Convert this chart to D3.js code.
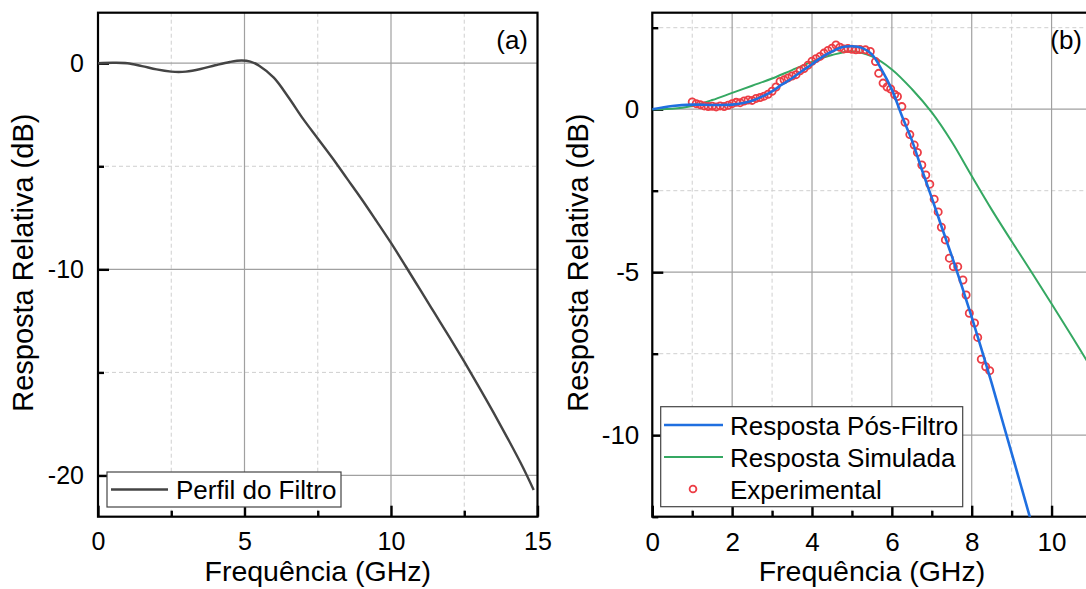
<!DOCTYPE html>
<html>
<head>
<meta charset="utf-8">
<script src="https://cdn.jsdelivr.net/npm/d3@7"></script>
<style>
  body { margin: 0; background: #fff; }
  svg { display: block; font-family: "Liberation Sans", Arial, sans-serif; }
</style>
</head>
<body>
<svg id="chart" width="1086" height="589"></svg>
<script>
// (a) perfil do filtro
var filtroFreq = [0, 0.5, 1.0, 1.5, 2.0, 2.5, 2.75, 3.0, 3.5, 4.0, 4.5, 4.9, 5.2, 5.5, 6.0, 6.5, 7.0, 7.5, 8.0, 8.5, 9.0, 9.5, 10.0, 10.5, 11.0, 11.5, 12.0, 12.5, 13.0, 13.5, 14.0, 14.5, 14.87];
var filtroDb = [0, 0.02, 0.0, -0.14, -0.3, -0.41, -0.43, -0.41, -0.28, -0.1, 0.06, 0.13, 0.08, -0.12, -0.7, -1.65, -2.7, -3.65, -4.6, -5.6, -6.6, -7.65, -8.72, -9.85, -11.0, -12.15, -13.3, -14.48, -15.7, -16.95, -18.25, -19.6, -20.7];

// (b) respostas
var posFreq = [0, 0.5, 1.0, 1.5, 2.0, 2.5, 3.0, 3.25, 3.5, 3.75, 4.0, 4.25, 4.5, 4.75, 5.0, 5.25, 5.5, 5.75, 6.0, 6.25, 6.5, 6.75, 7.0, 7.25, 7.5, 7.75, 8.0, 8.25, 8.5, 8.75, 9.0, 9.25, 9.5, 9.75];
var posDb = [0, 0.1, 0.14, 0.13, 0.14, 0.26, 0.55, 0.76, 0.95, 1.17, 1.38, 1.6, 1.77, 1.9, 1.93, 1.88, 1.68, 1.2, 0.6, -0.2, -0.95, -1.85, -2.72, -3.62, -4.5, -5.42, -6.38, -7.38, -8.4, -9.48, -10.55, -11.62, -12.7, -13.8];

var simFreq = [0, 0.5, 1.0, 1.5, 2.0, 2.5, 3.0, 3.5, 4.0, 4.5, 5.0, 5.5, 6.0, 6.5, 7.0, 7.5, 8.0, 8.5, 9.0, 9.5, 10.0, 10.5, 11.0];
var simDb = [0, 0.01, 0.1, 0.28, 0.5, 0.72, 0.94, 1.2, 1.45, 1.66, 1.78, 1.62, 1.22, 0.62, -0.1, -1.0, -2.05, -3.08, -4.05, -5.0, -5.97, -6.95, -7.95];

var expFreq = [1.0, 1.1, 1.2, 1.3, 1.4, 1.5, 1.6, 1.7, 1.8, 1.9, 2.0, 2.1, 2.2, 2.3, 2.4, 2.5, 2.6, 2.7, 2.8, 2.9, 3.0, 3.1, 3.2, 3.3, 3.4, 3.5, 3.6, 3.7, 3.8, 3.9, 4.0, 4.1, 4.2, 4.3, 4.4, 4.5, 4.6, 4.7, 4.8, 4.9, 5.0, 5.1, 5.2, 5.34, 5.46, 5.59, 5.67, 5.78, 5.88, 5.97, 6.07, 6.14, 6.25, 6.33, 6.45, 6.56, 6.64, 6.75, 6.85, 6.95, 7.06, 7.16, 7.24, 7.34, 7.44, 7.54, 7.65, 7.78, 7.86, 7.94, 8.07, 8.15, 8.24, 8.35, 8.45];
var expDb = [0.22, 0.17, 0.14, 0.1, 0.08, 0.09, 0.07, 0.1, 0.08, 0.12, 0.17, 0.21, 0.2, 0.25, 0.28, 0.27, 0.33, 0.36, 0.4, 0.46, 0.55, 0.68, 0.85, 0.9, 0.96, 1.02, 1.06, 1.18, 1.25, 1.35, 1.47, 1.55, 1.62, 1.72, 1.8, 1.87, 1.97, 1.9, 1.85, 1.86, 1.84, 1.82, 1.83, 1.82, 1.77, 1.46, 1.1, 0.8, 0.68, 0.62, 0.45, 0.39, 0.08, -0.4, -0.78, -1.1, -1.33, -1.71, -2.02, -2.3, -2.76, -3.15, -3.62, -4.01, -4.57, -4.83, -4.83, -5.24, -5.7, -6.26, -6.56, -7.0, -7.67, -7.9, -8.02];

var ticksAxMajor = [0, 5, 10, 15];
var ticksAxMinor = [2.5, 7.5, 12.5];
var ticksAyMajor = [0, -10, -20];
var ticksAyMinor = [-5, -15];
var ticksBxMajor = [0, 2, 4, 6, 8, 10];
var ticksBxMinor = [1, 3, 5, 7, 9, 11];
var ticksByMajor = [0, -5, -10];
var ticksByMinor = [2.5, -2.5, -7.5, -12.5];

var svg = d3.select('#chart');
svg.append('rect').attr('width', 1086).attr('height', 589).attr('fill', '#fff');

var zip = function(xs, ys) {
  return xs.map(function(v, i) { return [v, ys[i]]; });
};
// plain hyphen as in the original, not the unicode minus
var plain = function(d) { return String(d); };

function panel(opt) {
  var x = d3.scaleLinear().domain(opt.xDomain).range([opt.left, opt.right]);
  var y = d3.scaleLinear().domain(opt.yDomain).range([opt.bottom, opt.top]);
  var g = svg.append('g').attr('class', 'panel-' + opt.id);

  g.append('clipPath').attr('id', 'clip-' + opt.id)
    .append('rect')
    .attr('x', opt.left).attr('y', opt.top)
    .attr('width', opt.right - opt.left).attr('height', opt.bottom - opt.top);

  var grid = g.append('g').attr('class', 'grid');
  // minor grid first, dashed
  grid.selectAll('.gx-minor').data(opt.xMinor).enter().append('line')
    .attr('x1', x).attr('x2', x).attr('y1', opt.top).attr('y2', opt.bottom)
    .attr('stroke', '#cfcfcf').attr('stroke-width', 1).attr('stroke-dasharray', '4,3');
  grid.selectAll('.gy-minor').data(opt.yMinor).enter().append('line')
    .attr('y1', y).attr('y2', y).attr('x1', opt.left).attr('x2', opt.right)
    .attr('stroke', '#cfcfcf').attr('stroke-width', 1).attr('stroke-dasharray', '4,3');
  grid.selectAll('.gx-major').data(opt.xMajor).enter().append('line')
    .attr('x1', x).attr('x2', x).attr('y1', opt.top).attr('y2', opt.bottom)
    .attr('stroke', '#a0a0a0').attr('stroke-width', 1.2);
  grid.selectAll('.gy-major').data(opt.yMajor).enter().append('line')
    .attr('y1', y).attr('y2', y).attr('x1', opt.left).attr('x2', opt.right)
    .attr('stroke', '#a0a0a0').attr('stroke-width', 1.2);

  // axes with inward ticks
  var fs = opt.tickSize;
  var xAxis = g.append('g').attr('transform', 'translate(0,' + opt.bottom + ')')
    .call(d3.axisBottom(x).tickValues(opt.xMajor).tickSize(-11).tickPadding(opt.xPad).tickFormat(plain));
  var xAxisMinor = g.append('g').attr('transform', 'translate(0,' + opt.bottom + ')')
    .call(d3.axisBottom(x).tickValues(opt.xMinor).tickSize(-6).tickFormat(''));
  var yAxis = g.append('g').attr('transform', 'translate(' + opt.left + ',0)')
    .call(d3.axisLeft(y).tickValues(opt.yMajor).tickSize(-11).tickPadding(opt.yPad).tickFormat(plain));
  var yAxisMinor = g.append('g').attr('transform', 'translate(' + opt.left + ',0)')
    .call(d3.axisLeft(y).tickValues(opt.yMinor).tickSize(-6).tickFormat(''));

  [xAxis, xAxisMinor, yAxis, yAxisMinor].forEach(function(a) {
    a.select('.domain').remove();
    a.selectAll('line').attr('stroke', '#000').attr('stroke-width', 2.4);
    a.selectAll('text').attr('fill', '#000').style('font-size', fs + 'px')
      .style('font-family', '"Liberation Sans", Arial, sans-serif');
  });

  // frame
  g.append('rect')
    .attr('x', opt.left).attr('y', opt.top)
    .attr('width', opt.right - opt.left).attr('height', opt.bottom - opt.top)
    .attr('fill', 'none').attr('stroke', '#000').attr('stroke-width', 2.2);

  // axis titles
  g.append('text')
    .attr('x', (opt.left + opt.right) / 2).attr('y', 581)
    .attr('text-anchor', 'middle').style('font-size', opt.titleSize + 'px')
    .text('Frequência (GHz)');
  g.append('text')
    .attr('transform', 'translate(' + opt.yTitleX + ',' + ((opt.top + opt.bottom) / 2 - 2) + ') rotate(-90)')
    .attr('text-anchor', 'middle').style('font-size', (opt.titleSize + 0.5) + 'px')
    .text('Resposta Relativa (dB)');

  // panel letter
  g.append('text')
    .attr('x', opt.letterX).attr('y', 49)
    .attr('text-anchor', 'end').style('font-size', '26px')
    .text(opt.letter);

  return { g: g, x: x, y: y };
}

// ---------- panel (a)
var pa = panel({
  id: 'a', letter: '(a)', letterX: 528,
  left: 98, right: 537.5, top: 12.7, bottom: 516.7,
  xDomain: [0, 15], yDomain: [-22, 2.45],
  xMajor: ticksAxMajor, xMinor: ticksAxMinor,
  yMajor: ticksAyMajor, yMinor: ticksAyMinor,
  tickSize: 25, titleSize: 28.5, xPad: 16, yPad: 14, yTitleX: 33
});

var legA = pa.g.append('g').attr('class', 'legend');
legA.append('rect').attr('x', 107).attr('y', 472).attr('width', 234).attr('height', 35)
  .attr('fill', '#fff').attr('stroke', '#444').attr('stroke-width', 1.2);
legA.append('line').attr('x1', 111).attr('x2', 168).attr('y1', 489.5).attr('y2', 489.5)
  .attr('stroke', '#444').attr('stroke-width', 2.4);
legA.append('text').attr('x', 176).attr('y', 498.5).style('font-size', '26px').text('Perfil do Filtro');

var lineA = d3.line().x(function(d) { return pa.x(d[0]); }).y(function(d) { return pa.y(d[1]); })
  .curve(d3.curveCatmullRom.alpha(0.5));
pa.g.append('path')
  .datum(zip(filtroFreq, filtroDb))
  .attr('clip-path', 'url(#clip-a)')
  .attr('d', lineA)
  .attr('fill', 'none').attr('stroke', '#444').attr('stroke-width', 2.4);

// ---------- panel (b)
var pb = panel({
  id: 'b', letter: '(b)', letterX: 1082,
  left: 652.3, right: 1091.5, top: 12.7, bottom: 516.7,
  xDomain: [0, 11], yDomain: [-12.5, 2.96],
  xMajor: ticksBxMajor, xMinor: ticksBxMinor,
  yMajor: ticksByMajor, yMinor: ticksByMinor,
  tickSize: 26, titleSize: 28.5, xPad: 16, yPad: 13, yTitleX: 588
});

var legB = pb.g.append('g').attr('class', 'legend');
legB.append('rect').attr('x', 660.7).attr('y', 406.7).attr('width', 302).attr('height', 100)
  .attr('fill', '#fff').attr('stroke', '#444').attr('stroke-width', 1.2);
var legItems = [
  { label: 'Resposta Pós-Filtro', color: '#1f6fe0', type: 'line' },
  { label: 'Resposta Simulada', color: '#35a862', type: 'line' },
  { label: 'Experimental', color: '#ec3d45', type: 'dot' }
];
legItems.forEach(function(d, i) {
  var cy = 425 + i * 32;
  if (d.type === 'line') {
    legB.append('line').attr('x1', 664).attr('x2', 723).attr('y1', cy).attr('y2', cy)
      .attr('stroke', d.color).attr('stroke-width', d.label === 'Resposta Simulada' ? 2 : 2.6);
  } else {
    legB.append('circle').attr('cx', 693).attr('cy', cy).attr('r', 3.4)
      .attr('fill', 'none').attr('stroke', d.color).attr('stroke-width', 1.8);
  }
  legB.append('text').attr('x', 730).attr('y', cy + 9.5).style('font-size', '26px').text(d.label);
});

var lineB = d3.line().x(function(d) { return pb.x(d[0]); }).y(function(d) { return pb.y(d[1]); })
  .curve(d3.curveCatmullRom.alpha(0.5));

var dataB = pb.g.append('g').attr('clip-path', 'url(#clip-b)');
dataB.append('path').datum(zip(simFreq, simDb)).attr('d', lineB)
  .attr('fill', 'none').attr('stroke', '#35a862').attr('stroke-width', 2);
dataB.selectAll('.exp').data(zip(expFreq, expDb)).enter().append('circle')
  .attr('class', 'exp')
  .attr('cx', function(d) { return pb.x(d[0]); })
  .attr('cy', function(d) { return pb.y(d[1]); })
  .attr('r', 3.6)
  .attr('fill', 'none').attr('stroke', '#ec3d45').attr('stroke-width', 1.8);
dataB.append('path').datum(zip(posFreq, posDb)).attr('d', lineB)
  .attr('fill', 'none').attr('stroke', '#1f6fe0').attr('stroke-width', 2.6);
</script>
</body>
</html>
